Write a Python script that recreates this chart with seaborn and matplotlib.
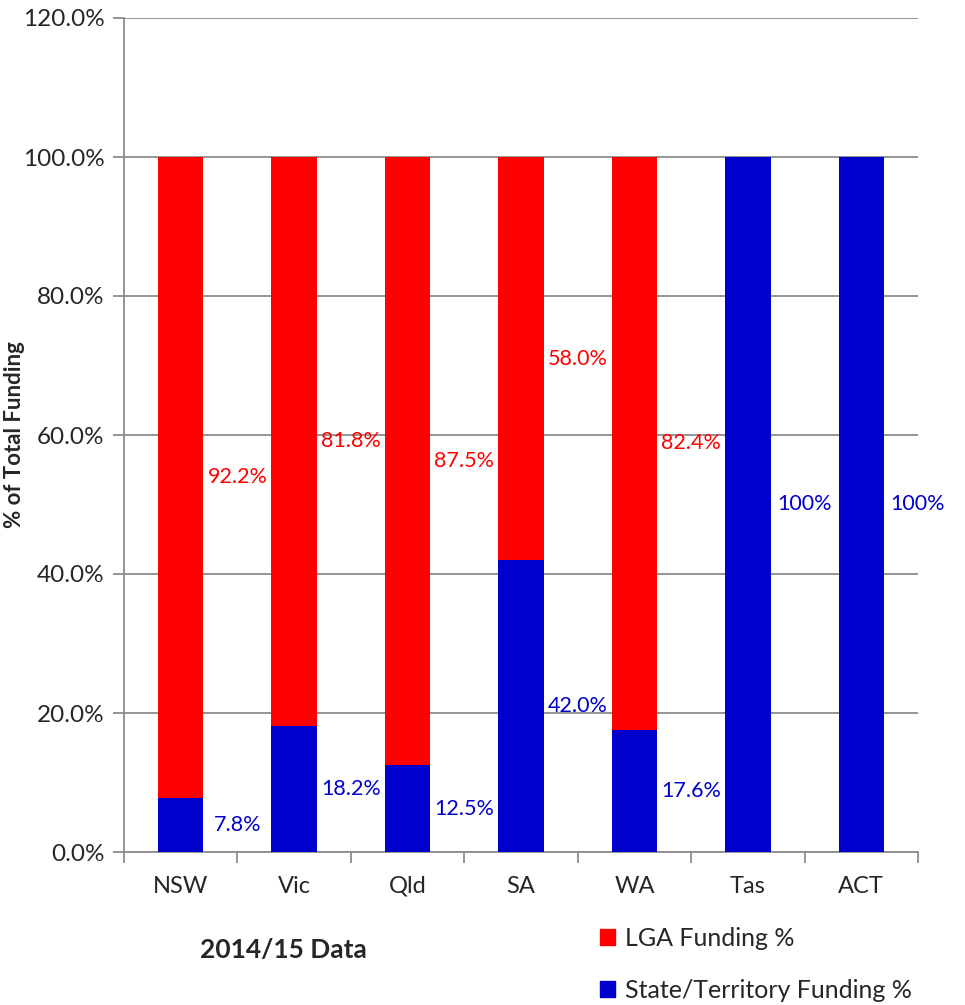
import numpy as np
import pandas as pd
import matplotlib
matplotlib.use('Agg')
import matplotlib.pyplot as plt
import seaborn as sns

# data
states = ['NSW', 'Vic', 'Qld', 'SA', 'WA', 'Tas', 'ACT']
state_pct = [7.8, 18.2, 12.5, 42.0, 17.6, 100.0, 100.0]
lga_pct = [92.2, 81.8, 87.5, 58.0, 82.4, 0.0, 0.0]
state_labels = ['7.8%', '18.2%', '12.5%', '42.0%', '17.6%', '100%', '100%']
lga_labels = ['92.2%', '81.8%', '87.5%', '58.0%', '82.4%', '', '']

RED = '#FF0000'
BLUE = '#0000CC'
GRID = '#8C8C8C'

df = pd.DataFrame({'state': states, 'State': state_pct, 'LGA': lga_pct})
df['total'] = df['State'] + df['LGA']

sns.set_style('white')
plt.rcParams['font.family'] = ['Lato', 'DejaVu Sans']

fig = plt.figure(figsize=(9.65, 10.05), dpi=100)
ax = fig.add_axes([124 / 965, 1 - 852 / 1005, 794 / 965, 834 / 1005])

sns.barplot(data=df, x='state', y='total', color=RED, width=0.4,
            saturation=1, linewidth=0, ax=ax, zorder=3)
sns.barplot(data=df, x='state', y='State', color=BLUE, width=0.4,
            saturation=1, linewidth=0, ax=ax, zorder=4)

# data labels sit to the right of each bar
for i in range(len(states)):
    ax.text(i + 0.5, state_pct[i] / 2, state_labels[i], color=BLUE,
            ha='center', va='center', fontsize=15.5, zorder=5)
    if lga_labels[i]:
        ax.text(i + 0.5, state_pct[i] + lga_pct[i] / 2, lga_labels[i],
                color=RED, ha='center', va='center', fontsize=15.5, zorder=5)

ax.set_ylim(0, 120)
ax.set_xlim(-0.5, len(states) - 0.5)
ax.set_yticks(np.arange(0, 121, 20))
ax.set_yticklabels([f'{v:.1f}%' for v in np.arange(0, 121, 20)], fontsize=17.5)
ax.yaxis.grid(True, color=GRID, linewidth=1.3, zorder=0)
ax.set_axisbelow(True)

# tick marks on category boundaries, labels at centres
ax.set_xticks(np.arange(-0.5, len(states)), labels=[''] * (len(states) + 1))
ax.set_xticks(np.arange(len(states)), labels=states, minor=True, fontsize=17)
ax.tick_params(axis='x', which='major', length=8, width=1.3, color=GRID, direction='out', bottom=True)
ax.tick_params(axis='x', which='minor', length=0, pad=17)
ax.tick_params(axis='y', length=8, width=1.3, color=GRID, direction='out', left=True, pad=6)

for side in ['top', 'right']:
    ax.spines[side].set_visible(False)
for side in ['left', 'bottom']:
    ax.spines[side].set_color(GRID)
    ax.spines[side].set_linewidth(1.3)

ax.set_xlabel('')
ax.set_ylabel('% of Total Funding', fontsize=16, fontweight='bold')
ax.yaxis.set_label_coords(-99 / 794, 0.5)

fig.text(283 / 965, 1 - 950 / 1005, '2014/15 Data', fontsize=19,
         fontweight='bold', ha='center', va='center')

handles = [plt.Rectangle((0, 0), 1, 1, color=RED),
           plt.Rectangle((0, 0), 1, 1, color=BLUE)]
fig.legend(handles, ['LGA Funding %', 'State/Territory Funding %'],
           loc='upper left', bbox_to_anchor=(590 / 965, 1 - 917 / 1005),
           frameon=False, fontsize=18, handlelength=0.6, handleheight=0.6,
           labelspacing=1.15, handletextpad=0.4, borderaxespad=0)

fig.savefig('out.png', dpi=100)
